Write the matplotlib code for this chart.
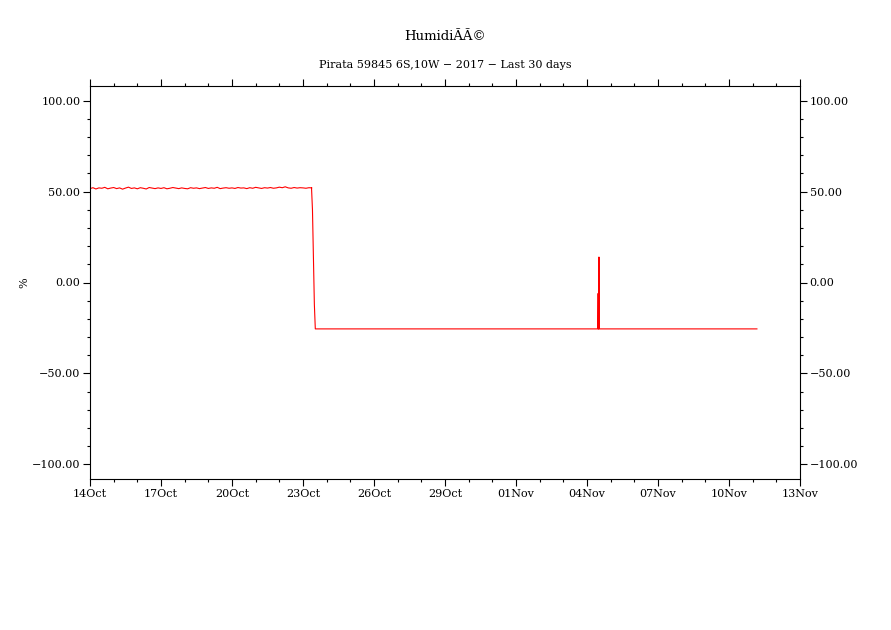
# -*- coding: utf-8 -*-
# Humidity time series, PIRATA buoy, last 30 days
import matplotlib
matplotlib.use('Agg')
import matplotlib.pyplot as plt
from matplotlib.ticker import MultipleLocator, FuncFormatter
import numpy as np

# time axis: days since 14 Oct 2017 00:00
tick_days = [0, 3, 6, 9, 12, 15, 18, 21, 24, 27, 30]
tick_labels = ['14Oct', '17Oct', '20Oct', '23Oct', '26Oct', '29Oct',
               '01Nov', '04Nov', '07Nov', '10Nov', '13Nov']

# humidity before the sensor failure, 3-hourly samples
hum_ok = [51.6, 52.1, 51.4, 52.0, 51.8, 52.3, 51.5, 51.9, 52.2, 51.6,
          52.0, 51.3, 51.9, 52.4, 51.7, 52.0, 51.5, 52.1, 51.8, 51.4,
          52.2, 51.9, 51.6, 52.0, 51.7, 52.1, 51.5, 51.8, 52.2, 51.9,
          51.6, 52.0, 51.7, 51.5, 52.1, 51.8, 52.0, 51.6, 51.9, 52.2,
          51.7, 52.0, 51.8, 52.3, 51.6, 51.9, 52.1, 51.8, 52.0, 51.7,
          52.2, 51.9, 52.0, 51.6, 52.1, 51.8, 52.3, 52.0, 51.7, 52.1,
          51.9, 52.2, 51.8, 52.0, 52.4, 52.1, 52.6, 52.0, 51.8, 52.2,
          51.9, 52.1, 52.0, 51.8, 52.1, 52.0]
t_ok = [i * 0.125 for i in range(len(hum_ok))]

# drop after 23 Oct, flat bad value, spike on 04 Nov, end of record
t_bad = [9.36, 9.40, 9.44, 9.48, 9.52, 21.46, 21.47, 21.48, 21.49, 21.50, 21.505, 21.51, 21.52, 28.18]
hum_bad = [52.0, 40.0, 14.0, -12.0, -25.5, -25.5, -6.0, -25.5, -6.0, -25.5, 14.0, -25.5, -25.5, -25.5]

t = t_ok + t_bad
hum = hum_ok + hum_bad

plt.rcParams['font.family'] = 'DejaVu Serif'

fig = plt.figure(figsize=(8.91, 6.30), dpi=100)
ax = fig.add_axes([90 / 891, 1 - 479 / 630, 710 / 891, 393 / 630])

ax.plot(t, hum, color='red', lw=0.8)

ax.set_xlim(0, 30)
ax.set_ylim(-108, 108)

ax.set_xticks(tick_days)
ax.set_xticklabels(tick_labels)
ax.xaxis.set_minor_locator(MultipleLocator(1))
ax.yaxis.set_major_locator(MultipleLocator(50))
ax.yaxis.set_minor_locator(MultipleLocator(10))
ax.yaxis.set_major_formatter(FuncFormatter(lambda v, p: ('%.2f' % v).replace('-', '\u2212')))

ax.tick_params(which='both', direction='out', top=True, right=True,
               labelright=True, labelsize=8, width=0.8, color='black')
ax.tick_params(which='major', length=5, pad=2)
ax.tick_params(which='minor', length=2.5)
for sp in ax.spines.values():
    sp.set_linewidth(0.8)

ax.set_ylabel('%', fontsize=8, rotation=90)
ax.yaxis.set_label_coords(-0.085, 0.5)

fig.text(0.5, 1 - 36 / 630, 'HumidiÃÃ©', ha='center', va='center', fontsize=9.5)
fig.text(0.5, 1 - 65 / 630, 'Pirata 59845 6S,10W \u2212 2017 \u2212 Last 30 days',
         ha='center', va='center', fontsize=8)

plt.savefig('out.png', dpi=100)
